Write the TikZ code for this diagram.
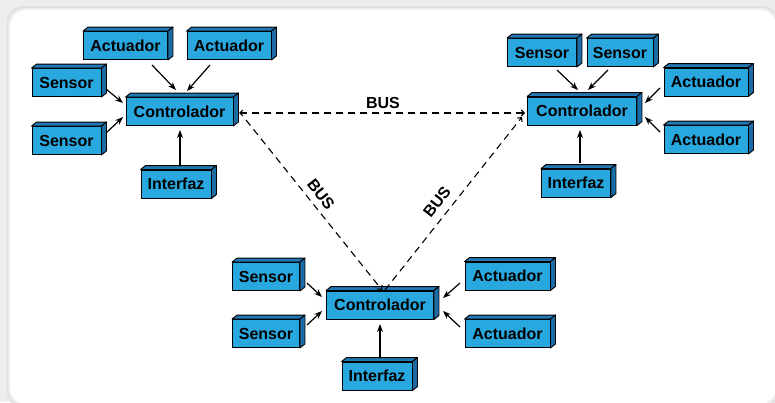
\documentclass[tikz,border=0pt]{standalone}
\usepackage{fontspec}
\setmainfont{Liberation Sans}
\usetikzlibrary{calc,arrows.meta}

\definecolor{frontblue}{HTML}{29A8E0}
\definecolor{topblue}{HTML}{2378B4}
\definecolor{sideblue}{HTML}{1C6CA5}
\definecolor{pagegray}{HTML}{EDEDED}

\tikzset{
  blk/.style={draw=black, line width=0.9pt, fill=frontblue, minimum height=28pt,
    inner sep=0pt, font=\bfseries\fontsize{16}{16}\selectfont, text=black},
  topface/.style={draw=black, line width=0.9pt, fill=topblue, line join=round},
  sideface/.style={draw=black, line width=0.9pt, fill=sideblue, line join=round},
  link/.style={line width=1.2pt, -{Stealth[length=8pt,width=6pt]}},
  bus/.style={line width=1.1pt, dash pattern=on 7pt off 5pt},
  bustip/.style={-{Straight Barb[length=3pt,width=6pt]}},
  buslabel/.style={font=\bfseries\fontsize{16}{16}\selectfont, inner sep=0pt}
}

% a box with a visible top and right face: name, x, y, width, label
\newcommand\cubebox[5]{%
  \node[blk, minimum width=#4pt] (#1) at (#2,#3) {#5};
  \filldraw[topface] (#1.north west) -- ++(5,-4) -- ($(#1.north east)+(5,-4)$) -- (#1.north east) -- cycle;
  \filldraw[sideface] (#1.north east) -- ++(5,-4) -- ($(#1.south east)+(5,-4)$) -- (#1.south east) -- cycle;
}

\begin{document}
\begin{tikzpicture}[x=1pt, y=-1pt]
\useasboundingbox (0,0) rectangle (775,402);

% page and panel
\fill[pagegray] (0,0) rectangle (775,402);
\fill[black!12, rounded corners=17pt] (7,6) rectangle (779,408);
\fill[black!7, rounded corners=17pt] (8,8) rectangle (778,406);
\fill[white, rounded corners=16pt] (10,10) rectangle (776,404);

% ---- left cluster ----
\cubebox{C1}{179.5}{111.5}{107}{Controlador}
\cubebox{A1}{125.5}{45.5}{84}{Actuador}
\cubebox{A2}{229}{45.5}{84}{Actuador}
\cubebox{S1}{66.5}{82.5}{69}{Sensor}
\cubebox{S2}{66.5}{140.5}{69}{Sensor}
\cubebox{I1}{176}{184}{70}{Interfaz}

% ---- right cluster ----
\cubebox{C2}{582}{111}{109}{Controlador}
\cubebox{S3}{542}{52.5}{69}{Sensor}
\cubebox{S4}{620}{52.5}{66}{Sensor}
\cubebox{A3}{706}{82}{84}{Actuador}
\cubebox{A4}{706}{139.5}{84}{Actuador}
\cubebox{I2}{576}{183}{69}{Interfaz}

% ---- bottom cluster ----
\cubebox{C3}{380}{305}{107}{Controlador}
\cubebox{S5}{266}{276.5}{67}{Sensor}
\cubebox{S6}{266}{333.5}{67}{Sensor}
\cubebox{A5}{507.5}{276}{85}{Actuador}
\cubebox{A6}{507.5}{333.5}{85}{Actuador}
\cubebox{I3}{377}{376}{70}{Interfaz}

% ---- links into the controllers ----
\draw[link] ($(A1)+(26.5,19.5)$) -- ($(C1)+(-3.5,-21.5)$);
\draw[link] ($(A2)+(-19,19.5)$) -- ($(C1)+(7.5,-20.5)$);
\draw[link] ($(S1)+(39.5,6.5)$) -- ($(C1)+(-56.5,-8.5)$);
\draw[link] ($(S2)+(39.5,-7.5)$) -- ($(C1)+(-56.5,5.5)$);
\draw[link] ($(I1)+(4,-19)$) -- ($(C1)+(0.5,18.5)$);

\draw[link] ($(S3)+(15,17.5)$) -- ($(C2)+(-4,-21)$);
\draw[link] ($(S4)+(-12,17.5)$) -- ($(C2)+(6,-21)$);
\draw[link] ($(A3)+(-46,6)$) -- ($(C2)+(63,-8)$);
\draw[link] ($(A4)+(-46,-7.5)$) -- ($(C2)+(63,6)$);
\draw[link] ($(I2)+(4,-20)$) -- ($(C2)+(-2,19)$);

\draw[link] ($(S5)+(41,6.5)$) -- ($(C3)+(-58,-8)$);
\draw[link] ($(S6)+(41,-8.5)$) -- ($(C3)+(-58,6)$);
\draw[link] ($(A5)+(-47.5,7)$) -- ($(C3)+(63,-7)$);
\draw[link] ($(A6)+(-47.5,-6.5)$) -- ($(C3)+(63,6)$);
\draw[link] ($(I3)+(3,-19)$) -- ($(C3)+(0,19)$);

% ---- bus between controllers ----
\draw[bus, {Straight Barb[length=3pt,width=6pt]}-{Straight Barb[length=3pt,width=6pt]}]
  ($(C1)+(59.5,1.5)$) -- ($(C2)+(-57,2)$);
\draw[bus, bustip] ($(C1)+(66.5,8.5)$) -- ($(C3)+(2,-15)$);
\draw[bus, bustip] ($(C3)+(5,-15)$) -- ($(C2)+(-60,6)$);

\node[buslabel] (bus12) at (383,103) {BUS};
\node[buslabel, rotate=-52] (bus13) at (321,194) {BUS};
\node[buslabel, rotate=52] (bus23) at (437,202) {BUS};
\end{tikzpicture}
\end{document}
